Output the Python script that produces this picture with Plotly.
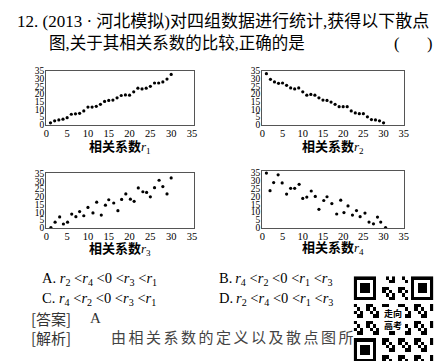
import plotly.graph_objects as go

W, H = 442, 361

x1 = list(range(1, 31))
y1 = [1.1, 2.4, 3.0, 3.5, 4.5, 6.7, 7.0, 7.3, 8.9, 11.4, 11.4, 11.9, 13.2, 15.1, 15.8,
      16.0, 17.5, 19.0, 19.4, 19.2, 21.4, 23.8, 23.3, 23.8, 25.0, 27.2, 27.2, 27.9, 29.8, 32.8]

x2 = list(range(1, 31))
y2 = [33.3, 29.6, 27.9, 27.0, 27.2, 25.7, 24.0, 23.3, 24.0, 21.4, 19.2, 19.7, 19.2, 17.5, 16.0,
      15.8, 14.7, 13.2, 11.7, 11.7, 11.7, 8.9, 7.6, 7.1, 7.1, 5.0, 3.2, 3.0, 2.4, 1.1]

x3 = [1.1, 2.1, 3.2, 4.1, 5.1, 6.1, 7.1, 8.0, 9.0, 10.0, 11.2, 12.1, 13.2, 14.2, 15.0,
      16.2, 17.2, 18.1, 19.1, 20.2, 21.1, 22.1, 23.2, 24.1, 25.0, 26.0, 27.1, 28.0, 29.0, 30.0]
y3 = [0.0, 3.5, 6.9, 2.3, 3.5, 8.75, 7.1, 10.4, 7.7, 13.1, 9.5, 16.5, 8.1, 14.6, 18.1,
      16.0, 11.0, 18.3, 21.9, 18.5, 17.1, 25.8, 23.3, 22.9, 20.0, 26.0, 30.8, 26.7, 21.9, 32.3]

x4 = [1.0, 1.9, 2.8, 3.9, 4.9, 6.0, 7.0, 8.0, 9.1, 10.0, 11.0, 12.1, 13.1, 14.0, 15.2,
      16.0, 17.2, 18.4, 19.4, 20.2, 21.2, 22.3, 23.3, 24.2, 25.4, 26.4, 27.5, 28.5, 29.3, 30.5]
y4 = [35.0, 23.7, 28.9, 33.9, 28.7, 21.5, 25.2, 25.2, 27.8, 18.7, 19.6, 23.5, 20.0, 11.7, 17.4,
      19.8, 15.4, 8.7, 17.6, 9.6, 13.9, 8.0, 10.9, 7.0, 9.3, 3.5, 2.4, 6.7, 3.5, 0.0]

tick_vals = [0, 5, 10, 15, 20, 25, 30, 35]
tick_text = ["0", "5", "10", "15", "20", "25", "30", "35"]
subs = ["1", "2", "3", "4"]
options = [
    ("A. ", ["2", "4", "3", "1"]),
    ("B.\u2009", ["4", "2", "1", "3"]),
    ("C. ", ["4", "2", "3", "1"]),
    ("D.\u2009", ["2", "4", "1", "3"]),
]

SERIF = "Liberation Serif, Noto Sans CJK SC"
CJK = "Noto Sans CJK SC"


def px(x):
    return x / W


def py(y):
    return 1 - y / H


frames = [(36, 186, 60, 116), (256, 400, 60, 116), (36, 186, 165, 222), (256, 400, 163, 222)]
xranges = [[0, 35.4], [0, 35], [0, 35.4], [0, 35]]
yranges = [[-0.4, 35.4], [-0.4, 35.4], [-0.6, 35.6], [-0.6, 36.4]]
series = [(x1, y1), (x2, y2), (x3, y3), (x4, y4)]

fig = go.Figure()
layout = dict(width=W, height=H, margin=dict(l=0, r=0, t=0, b=0),
              paper_bgcolor="white", plot_bgcolor="white", showlegend=False)

for i, ((xs, ys), (l, r, t, b)) in enumerate(zip(series, frames)):
    n = "" if i == 0 else str(i + 1)
    fig.add_trace(go.Scatter(x=xs, y=ys, mode="markers",
                             marker=dict(size=3.2, color="black"),
                             xaxis="x" + n, yaxis="y" + n, hoverinfo="skip"))
    axcommon = dict(showgrid=False, zeroline=False, showline=True, mirror=True,
                    linecolor="#555", linewidth=1.3, ticks="",
                    tickvals=tick_vals, ticktext=tick_text)
    layout["xaxis" + n] = dict(axcommon, domain=[px(l), px(r)], range=xranges[i],
                               anchor="y" + n, ticklabelstandoff=-2,
                               tickfont=dict(family="Liberation Serif", size=10.5, color="black"))
    layout["yaxis" + n] = dict(axcommon, domain=[py(b), py(t)], range=yranges[i],
                               anchor="x" + n, ticklabelstandoff=-1,
                               tickfont=dict(family="Liberation Serif", size=9.5, color="black"))

annotations = []


def add_text(text, x, y, size, family=SERIF, color="black", anchor="left"):
    annotations.append(dict(text=text, x=px(x), y=py(y), xref="paper", yref="paper",
                            xanchor=anchor, yanchor="middle", showarrow=False,
                            font=dict(family=family, size=size, color=color)))


add_text("12. (2013 · 河北模拟)对四组数据进行统计,获得以下散点", 4, 10, 17)
add_text("图,关于其相关系数的比较,正确的是", 37, 32, 16.5)
add_text("(", 388, 32, 16.5, family="Liberation Serif")
add_text(")", 432, 32, 16.5, family="Liberation Serif", anchor="right")

title_pos = [(111, 139), (328, 139), (111, 244), (328, 243)]
for s, (x, y) in zip(subs, title_pos):
    add_text("<b>相关系数</b><i>r</i><sub>" + s + "</sub>", x, y, 13, family=SERIF,
             anchor="center")

opt_pos = [(30, 274), (210, 274), (30, 294), (210, 294)]
for (lab, ss), (x, y) in zip(options, opt_pos):
    r = ["<i>r</i><sub>" + s + "</sub>" for s in ss]
    txt = lab + r[0] + " &lt;" + r[1] + " &lt;0 &lt;" + r[2] + " &lt;" + r[3]
    add_text(txt, x, y, 14.5)

add_text("[答案]", 18, 314, 15, family=CJK, color="#333")
add_text("A", 78, 314, 15, family=SERIF, color="#333")
add_text("[解析]", 18, 334, 15, family=CJK, color="#333")
add_text("\u2006".join("由相关系数的定义以及散点图所"), 100, 334, 15,
         family="Liberation Serif, Noto Sans CJK SC", color="#444")

# QR code decoration
N = 25
z = []
for i in range(N):
    row = []
    for j in range(N):
        v = 1 if ((i * 7 + j * 13 + i * j) % 5) < 2 else 0
        row.append(v)
    z.append(row)


def finder(r0, c0):
    for a in range(7):
        for b in range(7):
            edge = a in (0, 6) or b in (0, 6)
            core = 2 <= a <= 4 and 2 <= b <= 4
            z[r0 + a][c0 + b] = 1 if (edge or core) else 0
    for a in range(-1, 8):
        for b in range(-1, 8):
            rr, cc = r0 + a, c0 + b
            if 0 <= rr < N and 0 <= cc < N and not (0 <= a < 7 and 0 <= b < 7):
                z[rr][cc] = 0


finder(0, 0)
finder(0, N - 7)
finder(N - 7, 0)
for a in range(9, 16):
    for b in range(9, 16):
        z[a][b] = 0

fig.add_trace(go.Heatmap(z=z, xaxis="x5", yaxis="y5", showscale=False,
                         colorscale=[[0, "white"], [1, "black"]], hoverinfo="skip"))
layout["xaxis5"] = dict(domain=[px(349), px(430)], visible=False, anchor="y5",
                        range=[-0.5, N - 0.5])
layout["yaxis5"] = dict(domain=[py(359), py(271)], visible=False, anchor="x5",
                        range=[N - 0.5, -0.5])
annotations.append(dict(text="<b>走向<br>高考</b>", x=12, y=12, xref="x5", yref="y5",
                        showarrow=False, font=dict(family=CJK, size=9, color="black")))

layout["annotations"] = annotations
fig.update_layout(**layout)
fig.write_html("out.html")
